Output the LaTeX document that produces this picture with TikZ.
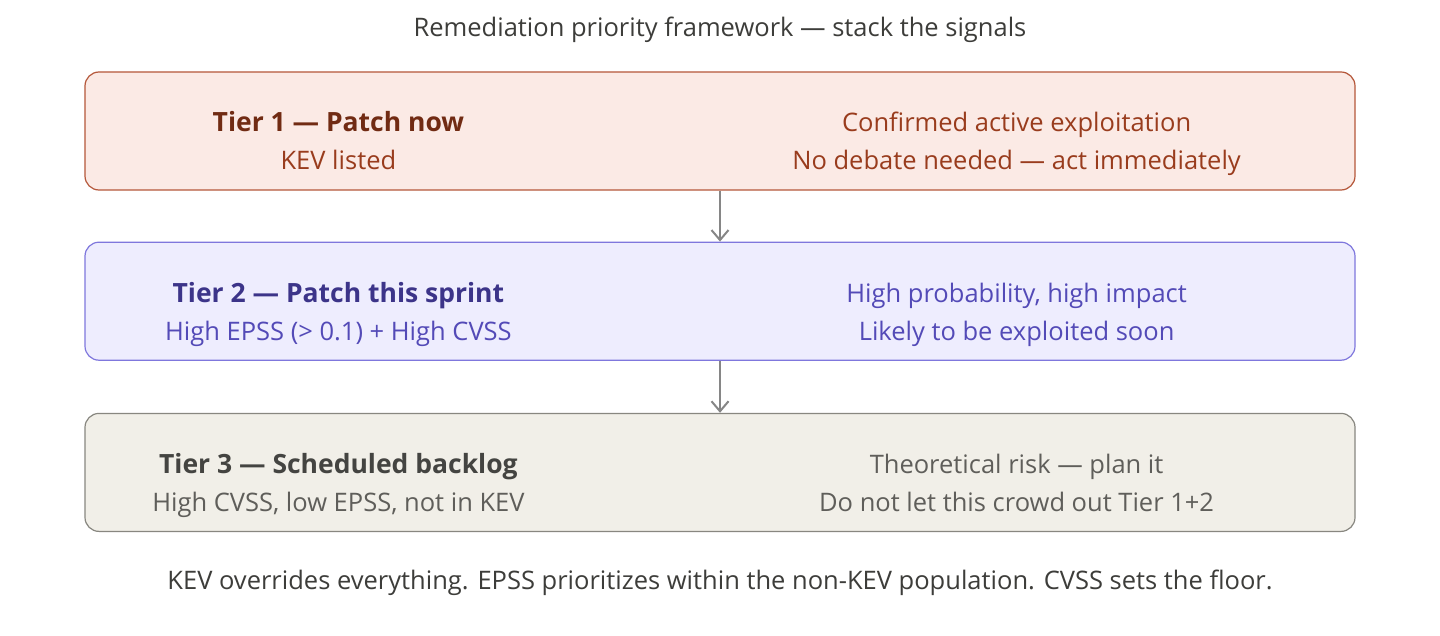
\documentclass[tikz,border=0pt]{standalone}
\usepackage{fontspec}
\setmainfont{Open Sans}
\usetikzlibrary{positioning,arrows.meta}

\definecolor{redfill}{HTML}{FBEAE5}
\definecolor{reddraw}{HTML}{B5573A}
\definecolor{redhead}{HTML}{712B13}
\definecolor{rednote}{HTML}{993C1D}
\definecolor{bluefill}{HTML}{EEEDFE}
\definecolor{bluedraw}{HTML}{7F77DD}
\definecolor{bluehead}{HTML}{3C3489}
\definecolor{bluenote}{HTML}{534AB7}
\definecolor{grayfill}{HTML}{F1EFE8}
\definecolor{graydraw}{HTML}{888780}
\definecolor{grayhead}{HTML}{444441}
\definecolor{graynote}{HTML}{5F5E5A}
\definecolor{inktext}{HTML}{3D3D3A}

\begin{document}
\begin{tikzpicture}[x=1pt,y=-1pt]

\tikzstyle{tier} = [rectangle, draw, line width=1.2pt, rounded corners=14pt,
    minimum width=1270pt, minimum height=118pt, inner sep=0pt]
\tikzstyle{lefttext} = [align=center, inner sep=0pt, anchor=base, yshift=-39pt,
    font=\fontsize{25.5}{38}\selectfont]
\tikzstyle{righttext} = [align=center, inner sep=0pt, anchor=base, yshift=-39pt,
    font=\fontsize{25.5}{38}\selectfont]
\tikzstyle{caption} = [inner sep=0pt, text=inktext,
    font=\fontsize{25.5}{30}\selectfont]
\tikzstyle{line} = [draw, color=gray!95, line width=2pt,
    -{Straight Barb[length=10pt,width=17pt,line width=2pt]}]

\useasboundingbox [fill=white] (0,0) rectangle (1440,636);

\node [caption] (title) at (720,30) {Remediation priority framework — stack the signals};

\node [tier, fill=redfill, draw=reddraw] (tier1) at (720,131) {};
\node [tier, fill=bluefill, draw=bluedraw, below=51pt of tier1] (tier2) {};
\node [tier, fill=grayfill, draw=graydraw, below=52pt of tier2] (tier3) {};

\node [lefttext, text=rednote, xshift=254pt] (tier1left) at (tier1.west)
  {{\fontsize{26.5}{38}\selectfont\bfseries\color{redhead}Tier 1 — Patch now}\\KEV listed};
\node [righttext, text=rednote, xshift=-339pt] (tier1right) at (tier1.east)
  {Confirmed active exploitation\\No debate needed — act immediately};

\node [lefttext, text=bluenote, xshift=254pt] (tier2left) at (tier2.west)
  {{\fontsize{26.5}{38}\selectfont\bfseries\color{bluehead}Tier 2 — Patch this sprint}\\High EPSS (> 0.1) + High CVSS};
\node [righttext, text=bluenote, xshift=-339pt] (tier2right) at (tier2.east)
  {High probability, high impact\\Likely to be exploited soon};

\node [lefttext, text=graynote, xshift=254pt] (tier3left) at (tier3.west)
  {{\fontsize{26.5}{38}\selectfont\bfseries\color{grayhead}Tier 3 — Scheduled backlog}\\High CVSS, low EPSS, not in KEV};
\node [righttext, text=graynote, xshift=-339pt] (tier3right) at (tier3.east)
  {Theoretical risk — plan it\\Do not let this crowd out Tier 1+2};

\path [line] (tier1) -- (tier2);
\path [line] (tier2) -- (tier3);

\node [caption] (footer) at (720,583) {KEV overrides everything. EPSS prioritizes within the non-KEV population. CVSS sets the floor.};
\end{tikzpicture}
\end{document}
